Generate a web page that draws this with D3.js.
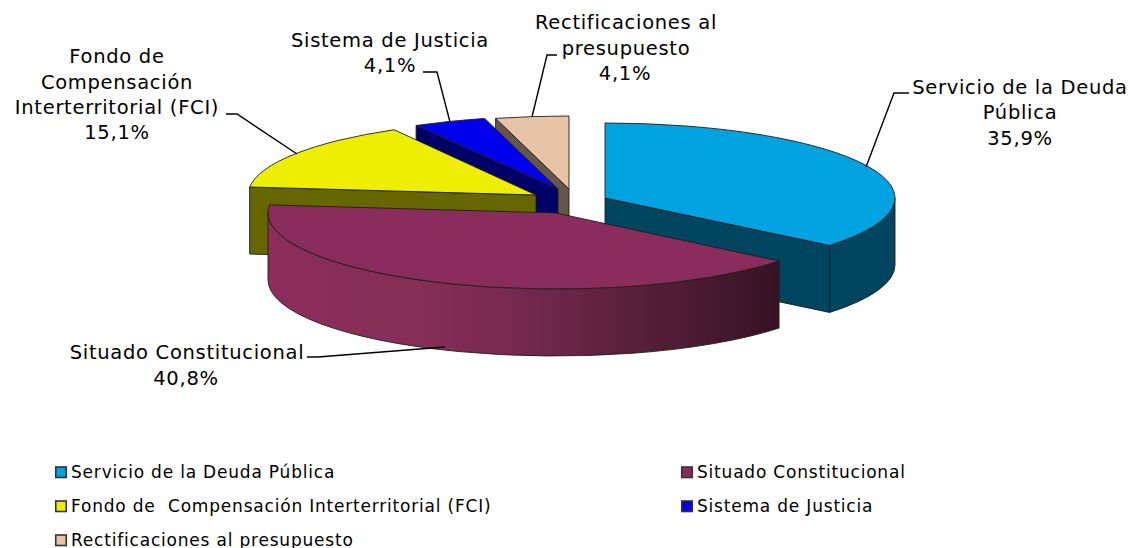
<!DOCTYPE html>
<html><head><meta charset="utf-8">
<style>html,body{margin:0;padding:0;background:#fff}svg{display:block}text{font-family:"DejaVu Sans",Verdana,sans-serif;fill:#000;white-space:pre}</style>
<script src="https://cdn.jsdelivr.net/npm/d3@7/dist/d3.min.js"></script>
</head><body><svg id="c" width="1130" height="548"></svg>
<script>
const categories = ["Servicio de la Deuda Pública","Situado Constitucional","Fondo de  Compensación Interterritorial (FCI)","Sistema de Justicia","Rectificaciones al presupuesto"];
const values = [35.9,40.8,15.1,4.1,4.1];
const valueLabels = ["35,9%","40,8%","15,1%","4,1%","4,1%"];
const topColors = ["#00a2e0","#8b2d5c","#eeee00","#0000ee","#e8c3a6"];
const wallColors = ["#00455f","#8b2d5c","#666600","#000066","#65554a"];

// layout
const DEPTH = 67;
const radiiX = [290,288,288,288,288];
const centers = [[605,198],[556,213],[536,195],[558,189],[569,189]];
const radiiY = [75,76,75,73,73];
const drawOrder = [4,3,2,0,1];
const labelLines = [
  [["Servicio de la Deuda",1020,94],["Pública",1020,119],[valueLabels[0],1020,145]],
  [["Situado Constitucional",187,359],[valueLabels[1],186,385]],
  [["Fondo de",117,63],["Compensación",117,89],["Interterritorial (FCI)",117,114],[valueLabels[2],117,139]],
  [["Sistema de Justicia",390,47],[valueLabels[3],390,72]],
  [["Rectificaciones al",626,29],["presupuesto",626,55],[valueLabels[4],625,80]]
];
const leaders = [
  [[866,167],[894,93],[909,93]],
  [[445,347],[318,357],[307,357]],
  [[297,154],[237,114],[226,114]],
  [[450,122],[437,72],[423,72]],
  [[532,117],[547,55],[557,55]]
];
const legendCells = [[55,472],[681,472],[55,506],[681,506],[55,540]];

const svg = d3.select("#c");
const defs = svg.append("defs");
const grad = defs.append("linearGradient").attr("id","wall1").attr("gradientUnits","userSpaceOnUse")
  .attr("x1",268).attr("x2",781).attr("y1",0).attr("y2",0);
[[0,"#8c2d5c"],[0.3,"#852e58"],[0.5,"#74294c"],[0.7,"#5a203c"],[0.85,"#481a2f"],[1,"#361222"]]
  .forEach(([o,c])=>grad.append("stop").attr("offset",o).attr("stop-color",c));

const arcs = d3.pie().sort(null)(values);
const arcGen = d3.arc().innerRadius(0);
const EDGE = "#1e1e1e", EW = 0.9;

const pt = (i,a,dy=0)=>[centers[i][0]+radiiX[i]*Math.sin(a), centers[i][1]-radiiY[i]*Math.cos(a)+dy];

function outerWall(i,a0,a1){
  const rx=radiiX[i], ry=radiiY[i], p=pt(i,a0), q=pt(i,a1), r=pt(i,a1,DEPTH), s=pt(i,a0,DEPTH);
  return `M${p}A${rx} ${ry} 0 0 1 ${q}L${r}A${rx} ${ry} 0 0 0 ${s}Z`;
}
function innerWall(i,a){
  const c=centers[i], p=pt(i,a);
  return `M${c}L${p}L${p[0]},${p[1]+DEPTH}L${c[0]},${c[1]+DEPTH}Z`;
}

const pie = svg.append("g");
drawOrder.forEach(i=>{
  const d=arcs[i], g=pie.append("g");
  const fill = i===1 ? "url(#wall1)" : wallColors[i];
  const wall = p=>g.append("path").attr("d",p).attr("fill",fill).attr("stroke",EDGE).attr("stroke-width",EW).attr("stroke-linejoin","round");
  if(d.startAngle>Math.PI) wall(innerWall(i,d.startAngle));
  if(d.endAngle<Math.PI) wall(innerWall(i,d.endAngle));
  const a0=Math.max(d.startAngle,Math.PI/2), a1=Math.min(d.endAngle,Math.PI*1.5);
  if(a1>a0) wall(outerWall(i,a0,a1));
  g.append("path").attr("d",arcGen.outerRadius(radiiX[i])(d))
    .attr("transform",`translate(${centers[i]}) scale(1,${radiiY[i]/radiiX[i]})`)
    .attr("fill",topColors[i]).attr("stroke",EDGE).attr("stroke-width",EW)
    .style("vector-effect","non-scaling-stroke");
});

const lineGen = d3.line();
svg.append("g").selectAll("path").data(leaders).join("path")
  .attr("d",lineGen).attr("fill","none").attr("stroke","#000").attr("stroke-width",1.4);

svg.append("g").selectAll("text").data(labelLines.flat()).join("text")
  .attr("x",d=>d[1]).attr("y",d=>d[2]).attr("text-anchor","middle")
  .attr("font-size",19.5).attr("letter-spacing",0.7).text(d=>d[0]);

const leg = svg.append("g").selectAll("g").data(categories).join("g")
  .attr("transform",(d,i)=>`translate(${legendCells[i]})`);
leg.append("rect").attr("x",0.75).attr("y",-5).attr("width",10.5).attr("height",10.5)
  .attr("fill",(d,i)=>topColors[i]).attr("stroke","#333").attr("stroke-width",1.6);
leg.append("text").attr("x",16).attr("y",5.5).attr("font-size",17).attr("letter-spacing",0.8).text(d=>d);
</script></body></html>
